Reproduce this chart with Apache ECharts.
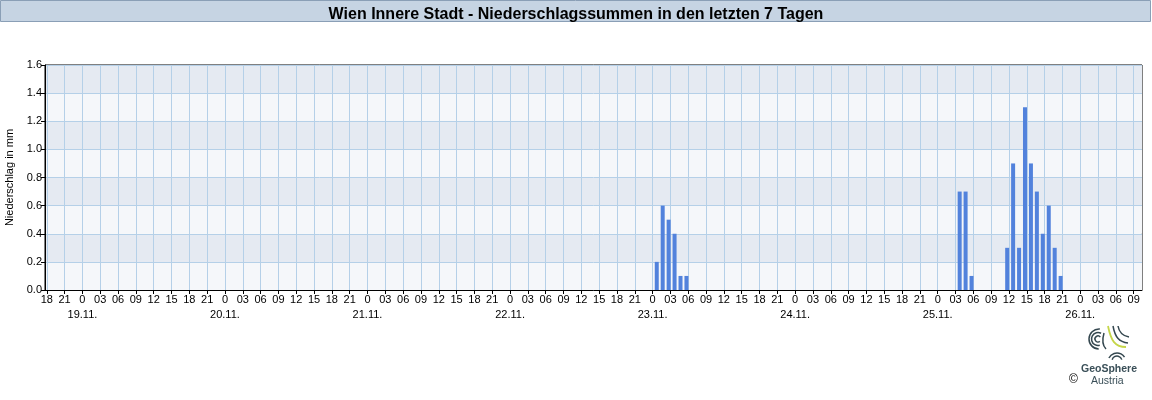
<!DOCTYPE html>
<html>
<head>
<meta charset="utf-8">
<script src="https://cdn.jsdelivr.net/npm/echarts@6/dist/echarts.min.js"></script>
<style>
html,body{margin:0;padding:0;background:#fff;}
#chart{width:1152px;height:400px;}
</style>
</head>
<body>
<div id="chart"></div>
<script>
// ---- data ----
const titleText = 'Wien Innere Stadt - Niederschlagssummen in den letzten 7 Tagen';
const yAxisName = 'Niederschlag in mm';
const yTicks = [0.0, 0.2, 0.4, 0.6, 0.8, 1.0, 1.2, 1.4, 1.6];
const hourTickLabels = ['0', '03', '06', '09', '12', '15', '18', '21'];
const dateLabels = ['18.11.', '19.11.', '20.11.', '21.11.', '22.11.', '23.11.', '24.11.', '25.11.', '26.11.'];
const firstTickHour = 18;        // 18.11. 18:00 (hours since 18.11. 00:00)
const lastTickHour = 201;        // 26.11. 09:00
// hourly precipitation sums (hour = end of accumulation period)
const barDays   = [23, 23, 23, 23, 23, 23, 25, 25, 25, 25, 25, 25, 25, 25, 25, 25, 25, 25, 25];
const barHours  = [1, 2, 3, 4, 5, 6, 4, 5, 6, 12, 13, 14, 15, 16, 17, 18, 19, 20, 21];
const barValues = [0.2, 0.6, 0.5, 0.4, 0.1, 0.1, 0.7, 0.7, 0.1, 0.3, 0.9, 0.3, 1.3, 0.9, 0.7, 0.4, 0.6, 0.3, 0.1];

// ---- build ----
const tickHoursList = [];
for (let h = firstTickHour; h <= lastTickHour; h += 3) tickHoursList.push(h);
const barData = barValues.map((v, i) => [(barDays[i] - 18) * 24 + barHours[i] - 0.3, v]);

const chart = echarts.init(document.getElementById('chart'), null, {renderer: 'canvas'});
const FONT = 'Liberation Sans, Arial, sans-serif';
const LOGO = '#34474f';

chart.setOption({
  animation: false,
  backgroundColor: '#ffffff',
  title: {
    text: titleText,
    left: 'center',
    top: 2,
    textStyle: {fontFamily: FONT, fontSize: 16, fontWeight: 'bold', color: '#000'}
  },
  grid: {
    left: 45, top: 65, width: 1097, height: 225,
    outerBoundsMode: 'none',
    containLabel: false,
    show: true, borderColor: '#000', borderWidth: 1, backgroundColor: 'transparent'
  },
  xAxis: {
    type: 'value',
    min: 17.7,
    max: 202.4,
    interval: 3,
    axisLine: {show: true, lineStyle: {color: '#000', width: 1}},
    axisTick: {show: true, length: 4, customValues: tickHoursList, lineStyle: {color: '#000'}},
    axisLabel: {
      customValues: tickHoursList,
      margin: 2,
      hideOverlap: false,
      fontFamily: FONT, fontSize: 11, color: '#000', lineHeight: 15.5,
      formatter: function (v) {
        const h = Math.round(v);
        const hod = ((h % 24) + 24) % 24;
        const lbl = hourTickLabels[hod / 3];
        if (hod === 0) return lbl + '\n' + dateLabels[Math.floor(h / 24)];
        return lbl;
      }
    },
    splitLine: {show: true, lineStyle: {color: '#b5d0e8', width: 1}}
  },
  yAxis: {
    type: 'value',
    min: yTicks[0],
    max: yTicks[yTicks.length - 1],
    interval: 0.2,
    name: yAxisName,
    nameLocation: 'middle',
    nameGap: 27,
    nameRotate: 90,
    nameTextStyle: {fontFamily: FONT, fontSize: 11, color: '#000'},
    axisLine: {show: true, lineStyle: {color: '#000'}},
    axisTick: {show: true, length: 4, lineStyle: {color: '#000'}},
    axisLabel: {
      margin: 3, fontFamily: FONT, fontSize: 11, color: '#000',
      formatter: v => v.toFixed(1)
    },
    splitLine: {show: true, lineStyle: {color: '#b5d0e8', width: 1}},
    splitArea: {show: true, areaStyle: {color: ['#f5f7fa', '#e5eaf2']}}
  },
  series: [{
    type: 'bar',
    data: barData,
    barWidth: 4,
    itemStyle: {color: '#5282dc'},
    z: 3
  }],
  graphic: [
    {type: 'rect', z: -1, shape: {x: 0.5, y: 0.5, width: 1150, height: 21},
     style: {fill: '#c6d4e3', stroke: '#8a9fb6', lineWidth: 1}},
    // logo
    {type: 'group', x: 1089, y: 325, children: [
      {type: 'arc', shape: {cx: 9, cy: 14, r: 3, startAngle: 0.9, endAngle: 5.6}, style: {stroke: LOGO, fill: null, lineWidth: 1.5}},
      {type: 'arc', shape: {cx: 9, cy: 14, r: 6.5, startAngle: 1.3, endAngle: 5.2}, style: {stroke: LOGO, fill: null, lineWidth: 1.5}},
      {type: 'arc', shape: {cx: 10, cy: 14, r: 10, startAngle: 1.6, endAngle: 4.8}, style: {stroke: LOGO, fill: null, lineWidth: 1.5}},
      {type: 'bezierCurve', shape: {x1: 19, y1: 1, x2: 37, y2: 22, cpx1: 22, cpy1: 16, cpx2: 26, cpy2: 22}, style: {stroke: '#c5d64a', fill: null, lineWidth: 1.8}},
      {type: 'bezierCurve', shape: {x1: 24, y1: 1, x2: 39, y2: 18, cpx1: 26, cpy1: 12, cpx2: 30, cpy2: 17}, style: {stroke: LOGO, fill: null, lineWidth: 1.5}},
      {type: 'bezierCurve', shape: {x1: 29, y1: 1, x2: 40, y2: 12, cpx1: 30, cpy1: 7, cpx2: 34, cpy2: 11}, style: {stroke: LOGO, fill: null, lineWidth: 1.5}},
      {type: 'bezierCurve', shape: {x1: 15, y1: 8, x2: 17, y2: 24, cpx1: 13, cpy1: 15, cpx2: 14, cpy2: 21}, style: {stroke: LOGO, fill: null, lineWidth: 1.5}},
      {type: 'arc', shape: {cx: 28, cy: 36, r: 5, startAngle: 3.4, endAngle: 6.0}, style: {stroke: LOGO, fill: null, lineWidth: 1.5}},
      {type: 'arc', shape: {cx: 28, cy: 37, r: 9, startAngle: 3.6, endAngle: 5.7}, style: {stroke: LOGO, fill: null, lineWidth: 1.5}}
    ]},
    {type: 'text', x: 1081, y: 364, style: {text: 'GeoSphere', font: 'bold 10.5px ' + FONT, fill: '#3a4f58'}},
    {type: 'text', x: 1091, y: 376, style: {text: 'Austria', font: '10.5px ' + FONT, fill: '#3a4f58'}},
    {type: 'text', x: 1069, y: 374, style: {text: '\u00a9', font: '12px ' + FONT, fill: '#000'}}
  ]
});
</script>
</body>
</html>
